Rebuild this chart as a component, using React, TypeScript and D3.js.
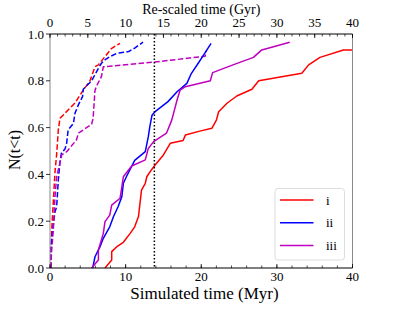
import React from "react";
import * as d3 from "d3";

// Solid curves (Simulated time, Myr)
const solidI_t = [7.27, 8.16, 8.16, 8.8, 9.7, 10.6, 11.2, 11.7, 11.9, 12.1, 12.6, 12.8, 13.4, 13.9, 15.0, 15.9, 17.6, 17.9, 19.8, 21.4, 22.0, 22.3, 23.4, 24.7, 26.7, 27.6, 33.3, 34.2, 35.7, 38.8, 40];
const solidI_n = [0, 0.034, 0.07, 0.09, 0.11, 0.148, 0.176, 0.22, 0.276, 0.333, 0.362, 0.39, 0.419, 0.44, 0.483, 0.533, 0.545, 0.568, 0.585, 0.597, 0.632, 0.668, 0.704, 0.735, 0.764, 0.8, 0.832, 0.868, 0.9, 0.932, 0.932];

const solidII_t = [5.65, 5.95, 6.6, 7.05, 7.9, 8.4, 9.0, 9.5, 9.7, 10.1, 11.2, 12.6, 13.0, 13.2, 13.5, 13.9, 15.6, 16.8, 18.1, 18.7, 19.6, 20.3, 21.3];
const solidII_n = [0, 0.048, 0.09, 0.127, 0.176, 0.22, 0.262, 0.305, 0.362, 0.39, 0.46, 0.497, 0.561, 0.604, 0.654, 0.668, 0.711, 0.753, 0.789, 0.832, 0.875, 0.91, 0.96];

const solidIII_t = [5.5, 6.4, 6.4, 7.05, 7.27, 7.9, 8.16, 9.26, 9.5, 9.7, 10.8, 12.6, 13.0, 13.7, 15.4, 16.1, 16.8, 17.2, 17.9, 21.2, 21.5, 24.2, 26.9, 28.0, 31.7];
const solidIII_n = [0, 0.034, 0.077, 0.148, 0.198, 0.226, 0.269, 0.298, 0.347, 0.39, 0.436, 0.462, 0.511, 0.54, 0.576, 0.632, 0.718, 0.76, 0.775, 0.8, 0.835, 0.868, 0.9, 0.932, 0.965];

// Dashed curves (Re-scaled time, Gyr)
const dashI_t = [0.13, 0.22, 0.66, 0.89, 1.1, 1.32, 1.76, 2.65, 3.3, 4.4, 5.29, 5.95, 6.39, 8.16, 9.26];
const dashI_n = [0, 0.16, 0.41, 0.49, 0.59, 0.64, 0.654, 0.684, 0.705, 0.76, 0.8, 0.86, 0.868, 0.939, 0.96];

const dashII_t = [0.1, 0.13, 0.35, 0.66, 0.88, 1.1, 1.3, 1.5, 2.0, 2.2, 2.4, 3.1, 3.3, 3.75, 4.3, 4.4, 5.5, 6.4, 6.8, 7.3, 7.9, 8.8, 10.4, 11.2, 12.3];
const dashII_n = [0, 0.09, 0.162, 0.24, 0.262, 0.376, 0.447, 0.49, 0.51, 0.533, 0.59, 0.618, 0.661, 0.697, 0.732, 0.764, 0.8, 0.853, 0.875, 0.89, 0.903, 0.917, 0.925, 0.94, 0.965];

const dashIII_t = [0.1, 0.22, 0.44, 0.66, 0.88, 1.1, 1.55, 2.2, 3.5, 3.75, 5.5, 5.7, 5.95, 6.2, 6.8, 7.05, 13.8, 20.5, 20.7];
const dashIII_n = [0, 0.077, 0.162, 0.305, 0.39, 0.42, 0.483, 0.497, 0.547, 0.576, 0.614, 0.64, 0.76, 0.78, 0.818, 0.86, 0.88, 0.905, 0.93];

const xTicksBottom = [0, 10, 20, 30, 40];
const xTicksTop = [0, 5, 10, 15, 20, 25, 30, 35, 40];
const yTicks = [0, 0.2, 0.4, 0.6, 0.8, 1.0];
const legendLabels = ["i", "ii", "iii"];
const colors = ["#ff0000", "#0000ff", "#bf00bf"];
const refTime = 13.8;

const W = 415, H = 312;
const L = 50, R = 352.5, T = 34, B = 268;
const FONT = "Liberation Serif, DejaVu Serif, serif";
const txt = { fontFamily: FONT, fill: "#000" } as React.CSSProperties;

export default function App() {
  const x = d3.scaleLinear().domain([0, 40]).range([L, R]);
  const y = d3.scaleLinear().domain([0, 1]).range([B, T]);
  const line = d3.line<[number, number]>().x(d => x(d[0])).y(d => y(d[1]));
  const zip = (a: number[], b: number[]) => a.map((v, i) => [v, b[i]] as [number, number]);

  const solids = [zip(solidI_t, solidI_n), zip(solidII_t, solidII_n), zip(solidIII_t, solidIII_n)];
  const dashes = [zip(dashI_t, dashI_n), zip(dashII_t, dashII_n), zip(dashIII_t, dashIII_n)];

  const minorBottom = d3.range(0, 40.01, 2);
  const minorTop = d3.range(0, 40.01, 1);

  return (
    <svg width={W} height={H} style={{ position: "absolute", left: 0, top: 0, fontFamily: FONT }}>
      <rect width={W} height={H} fill="#fff" />
      <defs>
        <clipPath id="plot"><rect x={L} y={T - 1} width={R - L} height={B - T + 2} /></clipPath>
      </defs>
      {/* curves */}
      <g clipPath="url(#plot)" fill="none" strokeWidth={1.5} strokeLinejoin="round">
        {dashes.map((d, i) => (
          <path key={"d" + i} d={line(d) || ""} stroke={colors[i]} strokeDasharray="5.5,2.4" />
        ))}
        {solids.map((d, i) => (
          <path key={"s" + i} d={line(d) || ""} stroke={colors[i]} />
        ))}
        <line x1={x(refTime)} x2={x(refTime)} y1={T} y2={B} stroke="#000" strokeWidth={1.5} strokeDasharray="1.5,2" />
      </g>
      {/* spines */}
      <line x1={L} x2={L} y1={T} y2={B} stroke="#888" strokeWidth={1} />
      <line x1={R} x2={R} y1={T} y2={B} stroke="#888" strokeWidth={1} />
      <line x1={L} x2={R} y1={T} y2={T} stroke="#000" strokeWidth={1} />
      <line x1={L} x2={R} y1={B} y2={B} stroke="#000" strokeWidth={1} />
      {/* bottom ticks */}
      {minorBottom.map(v => (
        <line key={"bm" + v} x1={x(v)} x2={x(v)} y1={B} y2={B - 2.5} stroke="#000" strokeWidth={0.7} />
      ))}
      {xTicksBottom.map(v => (
        <g key={"b" + v}>
          <line x1={x(v)} x2={x(v)} y1={B} y2={B - 4} stroke="#000" strokeWidth={0.8} />
          <text x={x(v)} y={B + 12.5} textAnchor="middle" fontSize={13} style={txt}>{v}</text>
        </g>
      ))}
      {/* top ticks */}
      {minorTop.map(v => (
        <line key={"tm" + v} x1={x(v)} x2={x(v)} y1={T} y2={T + 2.5} stroke="#000" strokeWidth={0.7} />
      ))}
      {xTicksTop.map(v => (
        <g key={"t" + v}>
          <line x1={x(v)} x2={x(v)} y1={T} y2={T + 4} stroke="#000" strokeWidth={0.8} />
          <text x={x(v)} y={T - 7} textAnchor="middle" fontSize={13} style={txt}>{v}</text>
        </g>
      ))}
      {/* left ticks */}
      {yTicks.map(v => (
        <g key={"y" + v}>
          <line x1={L} x2={L - 4} y1={y(v)} y2={y(v)} stroke="#000" strokeWidth={0.8} />
          <text x={L - 6} y={y(v) + 4.5} textAnchor="end" fontSize={13} style={txt}>{v.toFixed(1)}</text>
        </g>
      ))}
      {/* titles */}
      <text x={(L + R) / 2} y={13.5} textAnchor="middle" fontSize={14} style={txt}>Re-scaled time (Gyr)</text>
      <text x={204.5} y={298.5} textAnchor="middle" fontSize={17} style={txt}>Simulated time (Myr)</text>
      <text transform="translate(20,150) rotate(-90)" textAnchor="middle" fontSize={16} style={txt}>N(t&lt;t)</text>
      {/* legend */}
      <rect x={275} y={188.5} width={69.5} height={71.5} rx={3} fill="#fff" fillOpacity={0.8} stroke="#ddd" strokeWidth={1} />
      {legendLabels.map((lab, i) => (
        <g key={lab}>
          <line x1={280} x2={313.5} y1={200 + i * 22.7} y2={200 + i * 22.7} stroke={colors[i]} strokeWidth={1.5} />
          <text x={326} y={200 + i * 22.7 + 4.5} fontSize={13} style={txt}>{lab}</text>
        </g>
      ))}
    </svg>
  );
}
